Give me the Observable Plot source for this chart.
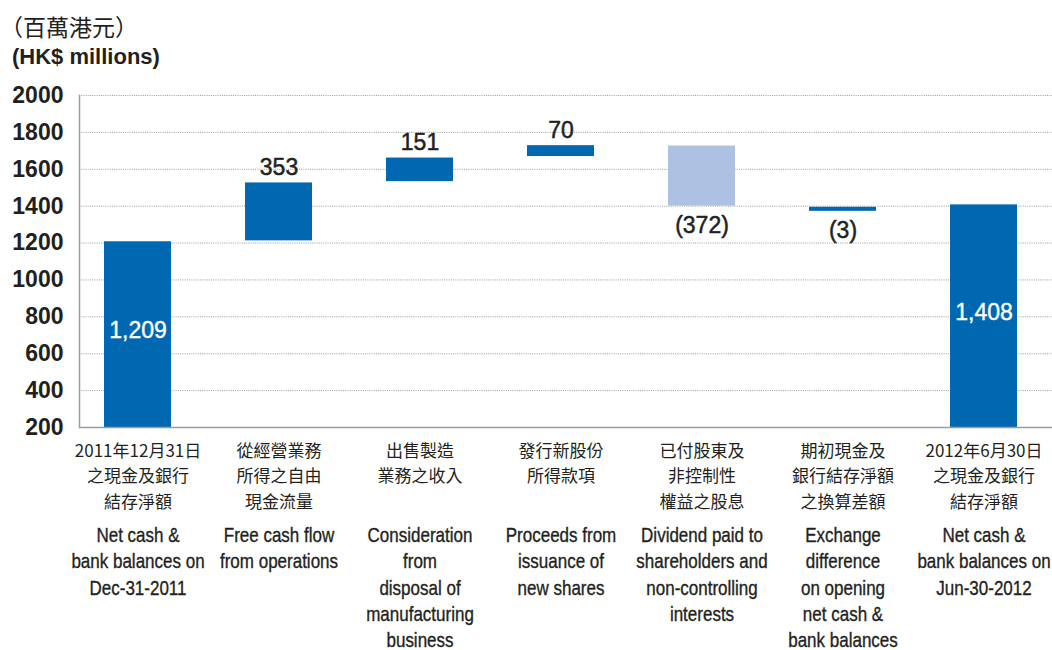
<!DOCTYPE html>
<html>
<head>
<meta charset="utf-8">
<script src="https://cdn.jsdelivr.net/npm/d3@7"></script>
<script src="https://cdn.jsdelivr.net/npm/@observablehq/plot@0.6"></script>
<style>
  body { margin: 0; background: #fff; }
  #wrap { position: relative; width: 1052px; height: 650px; overflow: hidden; }
  .t1 { position: absolute; left: 0px; top: 15px; font-family: "Noto Sans CJK TC", sans-serif; font-size: 23px; line-height: 23px; color: #231f20; white-space: nowrap; }
  .t2 { position: absolute; left: 12px; top: 46px; font-family: "Liberation Sans", Arial, sans-serif; font-weight: bold; font-size: 22px; line-height: 22px; color: #231f20; white-space: nowrap; }
</style>
</head>
<body>
<div id="wrap">
  <div id="chart"></div>
  <div class="t1">（百萬港元）</div>
  <div class="t2">(HK$ millions)</div>
</div>
<script>
// Category labels (Chinese, used as keys)
const categories = [
  "2011年12月31日\n之現金及銀行\n結存淨額",
  "從經營業務\n所得之自由\n現金流量",
  "出售製造\n業務之收入",
  "發行新股份\n所得款項",
  "已付股東及\n非控制性\n權益之股息",
  "期初現金及\n銀行結存淨額\n之換算差額",
  "2012年6月30日\n之現金及銀行\n結存淨額"
];
// English labels
const enLabels = [
  "Net cash &\nbank balances on\nDec-31-2011",
  "Free cash flow\nfrom operations",
  "Consideration\nfrom\ndisposal of\nmanufacturing\nbusiness",
  "Proceeds from\nissuance of\nnew shares",
  "Dividend paid to\nshareholders and\nnon-controlling\ninterests",
  "Exchange\ndifference\non opening\nnet cash &\nbank balances",
  "Net cash &\nbank balances on\nJun-30-2012"
];
// Bar bottoms and tops as drawn in the picture (HK$ millions)
const barBase = [200, 1212, 1533, 1669, 1400, 1372, 200];
const barTop  = [1207, 1526, 1661, 1728, 1726, 1394, 1407];
// Printed value labels
const valueLabels = ["1,209", "353", "151", "70", "(372)", "(3)", "1,408"];
// Bar shade and label placement
const barShade = ["dark", "dark", "dark", "dark", "light", "dark", "dark"];
const labelPlace = ["inside", "above", "above", "above", "below", "below", "inside"];
// Y axis ticks
const yTicks = [200, 400, 600, 800, 1000, 1200, 1400, 1600, 1800, 2000];

const data = categories.map((c, i) => ({
  cat: c, en: enLabels[i], base: barBase[i], top: barTop[i],
  label: valueLabels[i], shade: barShade[i], place: labelPlace[i]
}));

const DARK = "#0067b1", LIGHT = "#adc1e3", INK = "#231f20";

const chart = Plot.plot({
  width: 1052,
  height: 650,
  marginTop: 95,
  marginBottom: 223,
  marginLeft: 79,
  marginRight: 0,
  style: { fontFamily: "'Liberation Sans', Arial, sans-serif", fontSize: "22px", color: INK, background: "#fff", overflow: "visible" },
  x: { domain: categories, range: [66.7, 1053.8], paddingInner: 0.523, paddingOuter: 0.2615, axis: null },
  y: { domain: [200, 2000] },
  marks: [
    Plot.ruleY(yTicks.slice(1), { stroke: "#9c9c9c", strokeWidth: 1, strokeDasharray: "1,1.2" }),
    Plot.barY(data, { x: "cat", y1: "base", y2: "top", fill: d => d.shade === "dark" ? DARK : LIGHT }),
    Plot.ruleY([200], { stroke: "#9c9c9c", strokeWidth: 1.5 }),
    Plot.frame({ anchor: "left", stroke: "#9c9c9c", strokeWidth: 1.5 }),
    Plot.axisY({ ticks: yTicks, tickSize: 0, tickPadding: 16, label: null, fontSize: 23, fontWeight: "bold", fill: INK, tickFormat: d => String(d) }),
    Plot.text(data.filter(d => d.place === "above"), { x: "cat", y: "top", text: "label", lineAnchor: "bottom", dy: -8, fontSize: 23, fill: INK, stroke: INK, strokeWidth: 0.5 }),
    Plot.text(data.filter(d => d.place === "below"), { x: "cat", y: "base", text: "label", lineAnchor: "top", dy: 10, fontSize: 23, fill: INK, stroke: INK, strokeWidth: 0.5 }),
    Plot.text(data.filter(d => d.place === "inside"), { x: "cat", y: d => (d.base + d.top) / 2, text: "label", lineAnchor: "middle", dy: -4, fontSize: 23, fill: "#fff", stroke: "#fff", strokeWidth: 0.4 }),
    Plot.text(data, { x: "cat", frameAnchor: "bottom", text: "cat", lineAnchor: "top", dy: 11, lineHeight: 1.51, fontSize: 17, fontFamily: "'Noto Sans CJK TC', sans-serif", fill: INK }),
    Plot.text(data, { x: "cat", frameAnchor: "bottom", text: "en", lineAnchor: "top", dy: 96, lineHeight: 1.31, fontSize: 20, fill: INK, stroke: INK, strokeWidth: 0.35 })
  ]
});

document.getElementById("chart").appendChild(chart);

// Condense the English labels horizontally (narrow typeface look)
const enFlat = new Set(enLabels.map(s => s.replace(/\n/g, "")));
d3.select(chart).selectAll("text").each(function () {
  if (enFlat.has(this.textContent)) {
    const t = this.getAttribute("transform") || "";
    this.setAttribute("transform", t + " scale(0.85,1)");
  }
});
</script>
</body>
</html>
